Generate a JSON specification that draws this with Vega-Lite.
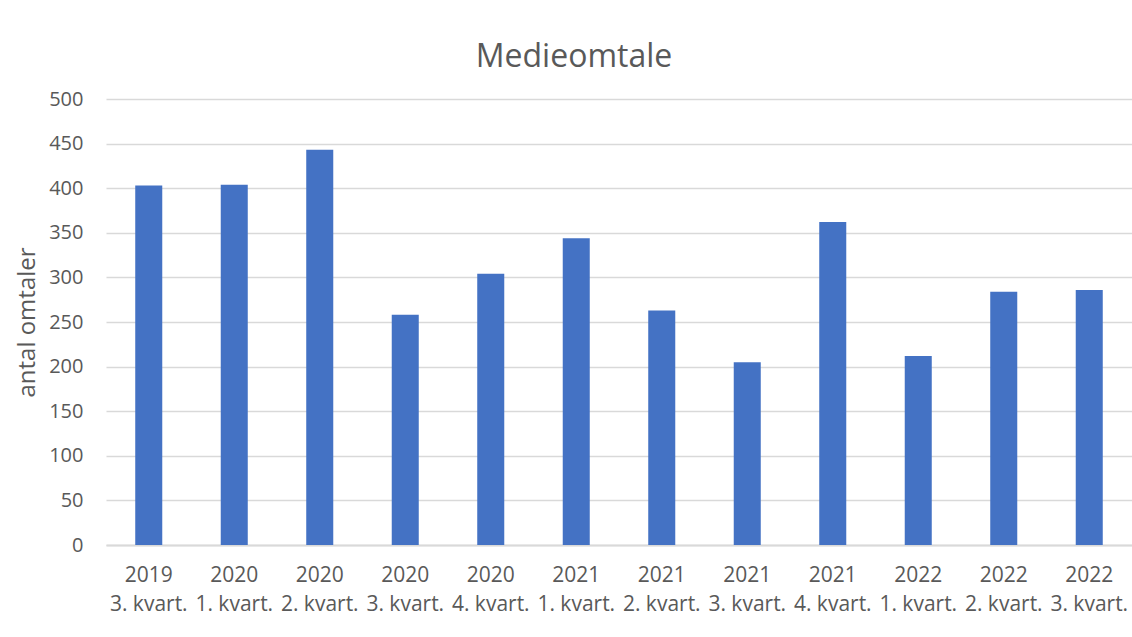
{
  "$schema": "https://vega.github.io/schema/vega-lite/v6.json",
  "width": 1026,
  "height": 446,
  "autosize": "none",
  "padding": {"left": 106, "top": 99, "right": 0, "bottom": 92},
  "background": "white",
  "title": {
    "text": "Medieomtale",
    "font": "Open Sans",
    "fontSize": 32,
    "fontWeight": "normal",
    "color": "#595959",
    "anchor": "middle",
    "dx": -45,
    "baseline": "alphabetic",
    "offset": -10
  },
  "data": {
    "values": [
      {"periode": "2019|3. kvart.", "omtaler": 403},
      {"periode": "2020|1. kvart.", "omtaler": 404},
      {"periode": "2020|2. kvart.", "omtaler": 443},
      {"periode": "2020|3. kvart.", "omtaler": 258},
      {"periode": "2020|4. kvart.", "omtaler": 304},
      {"periode": "2021|1. kvart.", "omtaler": 344},
      {"periode": "2021|2. kvart.", "omtaler": 263},
      {"periode": "2021|3. kvart.", "omtaler": 205},
      {"periode": "2021|4. kvart.", "omtaler": 362},
      {"periode": "2022|1. kvart.", "omtaler": 212},
      {"periode": "2022|2. kvart.", "omtaler": 284},
      {"periode": "2022|3. kvart.", "omtaler": 286}
    ]
  },
  "mark": {"type": "bar", "color": "#4472C4"},
  "encoding": {
    "x": {
      "field": "periode",
      "type": "nominal",
      "sort": null,
      "scale": {"paddingInner": 0.684, "paddingOuter": 0.342},
      "axis": {
        "title": null,
        "labelAngle": 0,
        "labelExpr": "split(datum.label, '|')",
        "labelFont": "Open Sans",
        "labelFontSize": 21,
        "labelColor": "#595959",
        "labelLineHeight": 29,
        "labelPadding": 19,
        "ticks": false,
        "domain": true,
        "domainColor": "#d9d9d9",
        "domainWidth": 2
      }
    },
    "y": {
      "field": "omtaler",
      "type": "quantitative",
      "scale": {"domain": [0, 500], "nice": false},
      "axis": {
        "title": "antal omtaler",
        "titleFont": "Open Sans",
        "titleFontSize": 24,
        "titleFontWeight": "normal",
        "titleColor": "#595959",
        "titlePadding": 9,
        "values": [0, 50, 100, 150, 200, 250, 300, 350, 400, 450, 500],
        "labelFont": "Open Sans",
        "labelFontSize": 20,
        "labelColor": "#595959",
        "labelPadding": 23,
        "ticks": false,
        "domain": false,
        "grid": true,
        "gridColor": "#d9d9d9",
        "gridWidth": 1.5
      }
    }
  },
  "config": {"view": {"stroke": null}}
}
